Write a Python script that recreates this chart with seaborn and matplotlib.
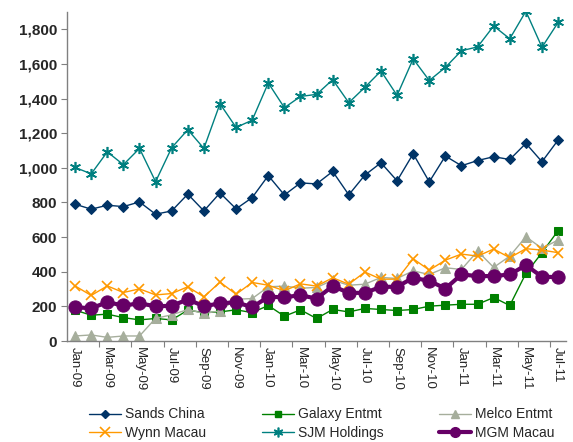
import numpy as np
import pandas as pd
import matplotlib
matplotlib.use("Agg")
import matplotlib.pyplot as plt
import seaborn as sns
from matplotlib.lines import Line2D
from matplotlib.ticker import FuncFormatter, FixedLocator

# monthly data, Jan-09 .. Jul-11
months = pd.date_range("2009-01-01", "2011-07-01", freq="MS")
month_labels = [d.strftime("%b-%y") for d in months]

sands_china = [790, 761, 784, 776, 803, 732, 751, 848, 751, 855, 763, 828,
               955, 843, 913, 907, 979, 844, 958, 1029, 925, 1081, 919, 1068,
               1012, 1042, 1064, 1048, 1141, 1035, 1160]
galaxy_entmt = [178, 149, 155, 135, 122, 130, 122, 178, 164, 168, 180, 164,
                205, 143, 180, 130, 182, 168, 188, 182, 176, 182, 201, 207,
                212, 212, 251, 205, 390, 510, 637]
melco_entmt = [29, 35, 21, 29, 29, 131, 151, 182, 159, 174, 241, 245,
               313, 317, 305, 309, 351, 322, 328, 367, 361, 405, 384, 423,
               413, 519, 425, 490, 602, 535, 583]
wynn_macau = [318, 263, 318, 280, 301, 266, 274, 313, 255, 340, 270, 338,
              322, 290, 330, 317, 365, 328, 398, 357, 357, 475, 409, 467,
              502, 490, 531, 481, 533, 525, 510]
sjm_holdings = [1002, 965, 1092, 1018, 1112, 920, 1116, 1220, 1112, 1370, 1233, 1275,
                1490, 1347, 1412, 1424, 1509, 1376, 1465, 1559, 1418, 1629, 1504, 1580,
                1676, 1698, 1819, 1745, 1904, 1696, 1839]
mgm_macau = [195, 189, 224, 205, 217, 201, 203, 240, 201, 217, 224, 195,
             255, 253, 264, 245, 317, 278, 278, 313, 313, 365, 347, 303,
             384, 375, 375, 384, 438, 371, 369]

x = np.arange(len(months))

sns.set_theme(style="white")
plt.rcParams['font.family'] = ['Liberation Sans', 'DejaVu Sans']

fig = plt.figure(figsize=(5.73, 4.42), dpi=100)
ax = fig.add_axes([0.117, 0.2285, 0.871, 0.7445])

series = [
    ("Sands China", sands_china, dict(color="#003366", marker="D", markersize=5, linewidth=1), 4),
    ("Galaxy Entmt", galaxy_entmt, dict(color="#008000", marker="s", markersize=5.5, linewidth=1), 5),
    ("Melco Entmt", melco_entmt, dict(color="#A6AE9C", marker="^", markersize=6.5, linewidth=1), 6),
    ("Wynn Macau", wynn_macau, dict(color="#FF9900", marker="x", markersize=7, markeredgewidth=1.2, linewidth=1), 7),
    ("SJM Holdings", sjm_holdings, dict(color="#008080", marker=(6, 2, 0), markersize=8, markeredgewidth=1.2, linewidth=1), 7),
    ("MGM Macau", mgm_macau, dict(color="#660066", marker="o", markersize=9.5, linewidth=3), 7),
]

legend_handles = {}
for name, vals, style, leg_ms in series:
    sns.lineplot(x=x, y=vals, ax=ax, markeredgecolor=style["color"], **style)
    leg_style = dict(style)
    leg_style["markersize"] = leg_ms
    legend_handles[name] = Line2D([], [], markeredgecolor=style["color"], **leg_style)

ax.set_xlim(-0.5, 30.5)
ax.set_ylim(0, 1900)
ax.set_yticks(range(0, 1801, 200))
ax.yaxis.set_major_formatter(FuncFormatter(lambda v, p: f"{int(v):,}"))
ax.set_xticks(x[::2])
ax.set_xticklabels(month_labels[::2], rotation=270, fontsize=9.5)
ax.xaxis.set_minor_locator(FixedLocator(np.arange(1.5, 30, 2)))
ax.tick_params(axis="x", which="major", length=0, pad=4)
ax.tick_params(axis="x", which="minor", length=4, width=0.8, color="#808080", direction="out", bottom=True)
ax.tick_params(axis="y", length=4, width=0.8, color="#808080", direction="out", left=True, labelsize=11, pad=3)
for t in ax.get_yticklabels():
    t.set_fontweight("bold")

for s in ["top", "right"]:
    ax.spines[s].set_visible(False)
for s in ["left", "bottom"]:
    ax.spines[s].set_color("#808080")
    ax.spines[s].set_linewidth(1)

order = ["Sands China", "Wynn Macau", "Galaxy Entmt", "SJM Holdings", "Melco Entmt", "MGM Macau"]
fig.legend([legend_handles[k] for k in order], order, ncol=3, loc="lower left",
           bbox_to_anchor=(0.138, -0.018), frameon=False, fontsize=10,
           handlelength=2.3, columnspacing=4.0, labelspacing=0.35, handletextpad=0.3,
           borderaxespad=0.3)

fig.savefig("out.png", dpi=100)
